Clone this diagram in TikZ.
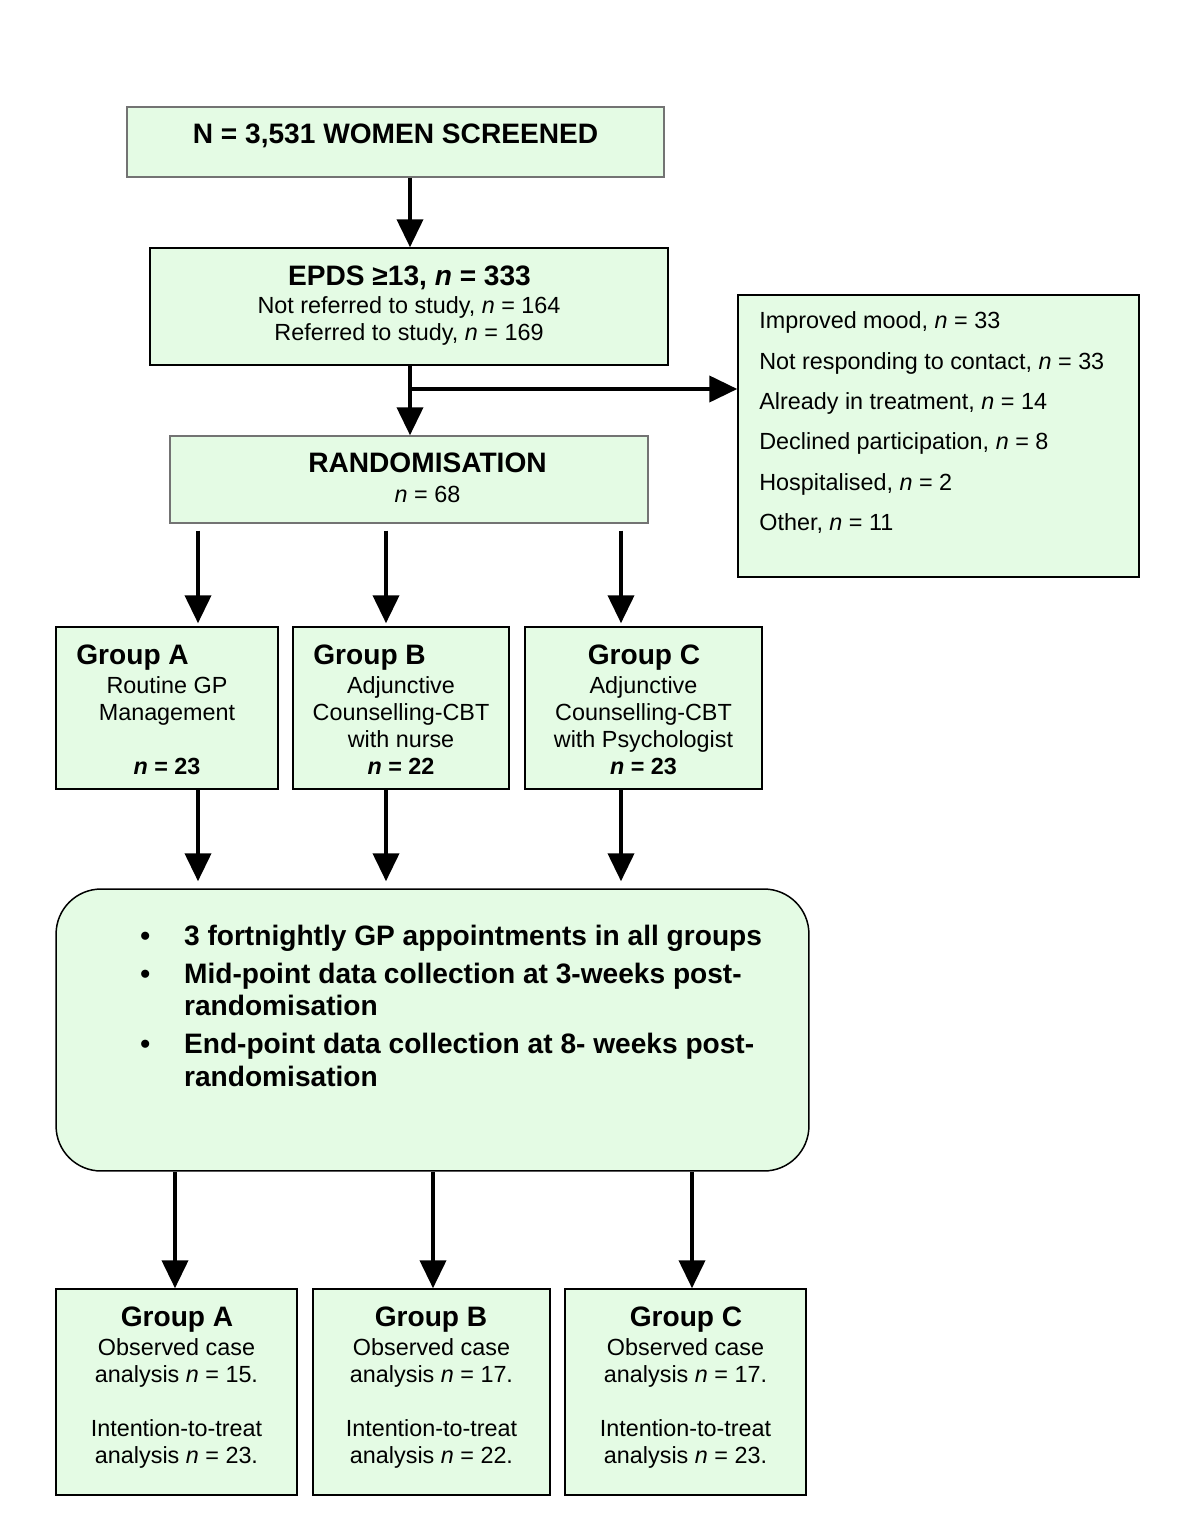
\documentclass[tikz,border=0pt]{standalone}
\usepackage{fontspec}
\setmainfont{Liberation Sans}
\usetikzlibrary{arrows.meta,positioning}
\definecolor{boxgreen}{RGB}{228,251,228}

\begin{document}
\begin{tikzpicture}[x=0.02cm, y=-0.02cm,
  box/.style={draw=black, fill=boxgreen, line width=0.85pt, inner sep=0pt},
  greybox/.style={box, draw=black!55},
  flow/.style={line width=0.08cm, -{Triangle[length=0.56cm, width=0.52cm]}},
  head/.style={font=\fontsize{16}{19}\selectfont\bfseries, inner sep=0pt, anchor=base},
  body/.style={font=\fontsize{13.3}{15.3}\selectfont, align=center, inner sep=0pt, anchor=base}]
\useasboundingbox (0,0) rectangle (1200,1534);

% boxes
\node[greybox, minimum width=10.74cm, minimum height=1.4cm] (screen) at (395.5,142) {};
\node[box, minimum width=10.36cm, minimum height=2.34cm] (epds) at (409,306.5) {};
\node[box, minimum width=8.02cm, minimum height=5.64cm] (excl) at (938.5,436) {};
\node[greybox, minimum width=9.56cm, minimum height=1.74cm] (rand) at (409,479.5) {};
\node[box, minimum width=4.44cm, minimum height=3.24cm] (grpA) at (167,708) {};
\node[box, minimum width=4.32cm, minimum height=3.24cm] (grpB) at (401,708) {};
\node[box, minimum width=4.74cm, minimum height=3.24cm] (grpC) at (643.5,708) {};
\node[box, rounded corners=0.9cm, minimum width=15.06cm, minimum height=5.64cm] (follow) at (432.5,1030) {};
\node[box, minimum width=4.82cm, minimum height=4.12cm] (resA) at (176.5,1392) {};
\node[box, minimum width=4.74cm, minimum height=4.12cm] (resB) at (431.5,1392) {};
\node[box, minimum width=4.82cm, minimum height=4.12cm] (resC) at (685.5,1392) {};

% texts (multi-line nodes sit on the baseline of their last line)
\node[head] (screen-t) at (395.5,144) {N = 3,531 WOMEN SCREENED};
\node[head] (epds-t) at (409.5,285) {EPDS ≥13, \textit{n} = 333};
\node[body] (epds-b) at (409,340.4) {Not referred to study, \textit{n} = 164\\Referred to study, \textit{n} = 169};
\node[body, align=left, anchor=base west, font=\fontsize{13.3}{22.96}\selectfont] (excl-b) at (759,530.4)
  {Improved mood, \textit{n} = 33\\Not responding to contact, \textit{n} = 33\\Already in treatment, \textit{n} = 14\\
   Declined participation, \textit{n} = 8\\Hospitalised, \textit{n} = 2\\Other, \textit{n} = 11};
\node[head] (rand-t) at (427.5,472) {RANDOMISATION};
\node[body] (rand-b) at (427.5,502.4) {\textit{n} = 68};

\node[head, anchor=base west] (grpA-t) at (76,664) {Group A};
\node[head, anchor=base west] (grpB-t) at (313,664) {Group B};
\node[head] (grpC-t) at (644,664) {Group C};
\node[body] (grpA-b) at (167,774.4) {Routine GP\\Management\\\mbox{}\\\textbf{\textit{n} = 23}};
\node[body] (grpB-b) at (401,774.4) {Adjunctive\\Counselling-CBT\\with nurse\\\textbf{\textit{n} = 22}};
\node[body] (grpC-b) at (643.5,774.4) {Adjunctive\\Counselling-CBT\\with Psychologist\\\textbf{\textit{n} = 23}};

\node[head, anchor=base west, align=left, font=\fontsize{16}{18.7}\selectfont\bfseries] (follow-t) at (140,1086)
  {\makebox[24.9pt][l]{•}3 fortnightly GP appointments in all groups\\[2.5pt]
   \makebox[24.9pt][l]{•}Mid-point data collection at 3-weeks post-\\
   \makebox[24.9pt]{}randomisation\\[2.5pt]
   \makebox[24.9pt][l]{•}End-point data collection at 8- weeks post-\\
   \makebox[24.9pt]{}randomisation};

\node[head] (resA-t) at (177,1326) {Group A};
\node[head] (resB-t) at (431,1326) {Group B};
\node[head] (resC-t) at (686,1326) {Group C};
\node[body] (resA-b) at (176.5,1463.4) {Observed case\\analysis \textit{n} = 15.\\\mbox{}\\Intention-to-treat\\analysis \textit{n} = 23.};
\node[body] (resB-b) at (431.5,1463.4) {Observed case\\analysis \textit{n} = 17.\\\mbox{}\\Intention-to-treat\\analysis \textit{n} = 22.};
\node[body] (resC-b) at (685.5,1463.4) {Observed case\\analysis \textit{n} = 17.\\\mbox{}\\Intention-to-treat\\analysis \textit{n} = 23.};

% arrows
\coordinate (split) at (410,389);
\draw[flow] (410,0 |- screen.south) -- (410,0 |- epds.north);
\draw[flow] (410,0 |- epds.south) -- (410,0 |- rand.north);
\draw[flow] (split) -- (split -| excl.west);
\foreach \g/\x in {A/198, B/386, C/621} {
  \draw[flow, shorten <=0.14cm, shorten >=0.06cm] (\x,0 |- rand.south) -- (\x,0 |- grp\g.north);
  \draw[flow, shorten >=0.14cm] (\x,0 |- grp\g.south) -- (\x,0 |- follow.north);
}
\foreach \g/\x in {A/175, B/433, C/692}
  \draw[flow] (\x,0 |- follow.south) -- (\x,0 |- res\g.north);
\end{tikzpicture}
\end{document}
